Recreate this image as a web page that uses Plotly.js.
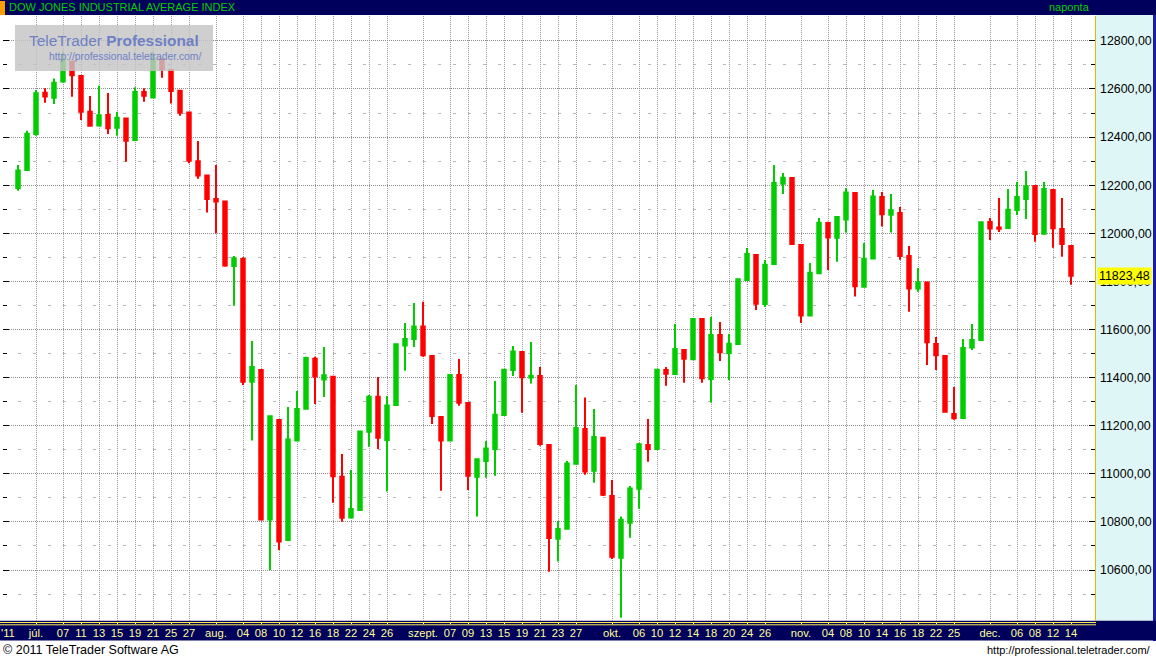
<!DOCTYPE html>
<html>
<head>
<meta charset="utf-8">
<script src="https://cdn.plot.ly/plotly-3.0.1.min.js"></script>
<style>
html,body{margin:0;padding:0;background:#fff;overflow:hidden}
#chart{width:1156px;height:659px}
</style>
</head>
<body>
<div id="chart"></div>
<script>
// ---- DATA: Dow Jones Industrial Average, daily OHLC, 29 Jun - 14 Dec 2011 ----
const dates = [
 '2011-06-29','2011-06-30',
 '2011-07-01','2011-07-05','2011-07-06','2011-07-07','2011-07-08','2011-07-11','2011-07-12','2011-07-13','2011-07-14','2011-07-15',
 '2011-07-18','2011-07-19','2011-07-20','2011-07-21','2011-07-22','2011-07-25','2011-07-26','2011-07-27','2011-07-28','2011-07-29',
 '2011-08-01','2011-08-02','2011-08-03','2011-08-04','2011-08-05','2011-08-08','2011-08-09','2011-08-10','2011-08-11','2011-08-12',
 '2011-08-15','2011-08-16','2011-08-17','2011-08-18','2011-08-19','2011-08-22','2011-08-23','2011-08-24','2011-08-25','2011-08-26',
 '2011-08-29','2011-08-30','2011-08-31',
 '2011-09-01','2011-09-02','2011-09-06','2011-09-07','2011-09-08','2011-09-09','2011-09-12','2011-09-13','2011-09-14','2011-09-15',
 '2011-09-16','2011-09-19','2011-09-20','2011-09-21','2011-09-22','2011-09-23','2011-09-26','2011-09-27','2011-09-28','2011-09-29','2011-09-30',
 '2011-10-03','2011-10-04','2011-10-05','2011-10-06','2011-10-07','2011-10-10','2011-10-11','2011-10-12','2011-10-13','2011-10-14',
 '2011-10-17','2011-10-18','2011-10-19','2011-10-20','2011-10-21','2011-10-24','2011-10-25','2011-10-26','2011-10-27','2011-10-28','2011-10-31',
 '2011-11-01','2011-11-02','2011-11-03','2011-11-04','2011-11-07','2011-11-08','2011-11-09','2011-11-10','2011-11-11',
 '2011-11-14','2011-11-15','2011-11-16','2011-11-17','2011-11-18','2011-11-21','2011-11-22','2011-11-23','2011-11-25',
 '2011-11-28','2011-11-29','2011-11-30',
 '2011-12-01','2011-12-02','2011-12-05','2011-12-06','2011-12-07','2011-12-08','2011-12-09','2011-12-12','2011-12-13','2011-12-14'
];
const openVals = [
 12188,12263,12413,12584,12564,12631,12714,12654,12505,12448,
 12492,12439,12477,12388,12587,12565,12724,12679,12593,12502,
 12300,12240,12143,12132,11864,11893,11383,11432,10810,11224,
 10725,11138,11270,11478,11392,11404,10988,10818,10850,11175,
 11320,11141,11286,11533,11561,11612,11490,11236,11138,11411,
 11294,10988,11053,11103,11244,11432,11506,11400,11407,11120,
 10730,10772,11042,11186,11013,11150,10908,10651,10797,10938,
 11120,11103,11432,11415,11515,11476,11644,11394,11577,11502,
 11540,11806,11910,11706,11872,12206,12230,11951,11658,11834,
 12043,11982,12057,12168,11778,11895,12151,12077,12084,11906,
 11770,11795,11540,11490,11249,11232,11525,11556,12047,12024,
 12022,12097,12143,12197,11998,12180,12018,11947
];
const highVals = [
 12284,12426,12596,12603,12644,12755,12714,12657,12571,12613,
 12583,12505,12481,12607,12603,12755,12728,12682,12596,12505,
 12384,12243,12284,12133,11906,11900,11552,11435,11240,11224,
 11278,11344,11487,11487,11527,11407,11082,11016,11180,11328,
 11403,11324,11541,11627,11710,11715,11494,11240,11413,11477,
 11298,11063,11136,11386,11436,11531,11510,11548,11444,11124,
 10804,11053,11369,11317,11269,11154,10974,10822,10949,11128,
 11228,11434,11444,11623,11515,11648,11644,11652,11631,11581,
 11810,11939,11914,11889,12284,12251,12234,11956,11877,12064,
 12048,12072,12188,12168,11960,12180,12172,12163,12109,11947,
 11856,11799,11569,11494,11361,11561,11623,12048,12064,12147,
 12184,12213,12259,12197,12213,12184,12147,11951
];
const lowVals = [
 12177,12259,12406,12543,12538,12626,12568,12471,12444,12446,
 12413,12406,12298,12385,12547,12563,12647,12540,12489,12291,
 12227,12086,12000,11861,11699,11369,11138,10808,10600,10683,
 10722,11138,11270,11290,11319,10880,10801,10818,10847,11113,
 11103,10926,11282,11428,11527,11487,11207,10930,11137,11283,
 10933,10822,10984,10992,11242,11407,11254,11375,11117,10593,
 10635,10771,11041,10996,10963,10908,10646,10402,10734,10855,
 11050,11101,11366,11411,11379,11473,11379,11296,11469,11390,
 11538,11802,11681,11694,11872,12163,11951,11627,11657,11831,
 11847,11882,12003,11737,11774,11894,12028,12003,11890,11674,
 11757,11452,11432,11257,11225,11229,11515,11556,11972,12005,
 12018,12076,12059,11965,11994,11940,11903,11786
];
const closeVals = [
 12261,12414,12582,12569,12626,12719,12657,12505,12447,12491,
 12437,12480,12385,12587,12572,12724,12681,12592,12501,12302,
 12240,12143,12132,11866,11896,11383,11444,10810,11239,10719,
 11143,11269,11482,11405,11410,10990,10817,10854,11176,11320,
 11150,11284,11539,11560,11613,11493,11240,11139,11411,11295,
 10992,11061,11105,11246,11433,11509,11401,11408,11124,10733,
 10771,11043,11190,11010,11153,10913,10655,10809,10939,11123,
 11103,11433,11416,11519,11478,11644,11397,11577,11505,11541,
 11809,11914,11707,11869,12209,12231,11955,11658,11836,12044,
 11983,12068,12170,11780,11894,12153,12079,12096,11906,11770,
 11796,11547,11493,11258,11231,11523,11556,12046,12020,12019,
 12098,12151,12196,11997,12184,12021,11955,11823.48
];
const xTickVals = [
 '2011-07-01','2011-07-07','2011-07-11','2011-07-13','2011-07-15','2011-07-19','2011-07-21','2011-07-25','2011-07-27',
 '2011-08-01','2011-08-04','2011-08-08','2011-08-10','2011-08-12','2011-08-16','2011-08-18','2011-08-22','2011-08-24','2011-08-26',
 '2011-09-01','2011-09-07','2011-09-09','2011-09-13','2011-09-15','2011-09-19','2011-09-21','2011-09-23','2011-09-27',
 '2011-10-03','2011-10-06','2011-10-10','2011-10-12','2011-10-14','2011-10-18','2011-10-20','2011-10-24','2011-10-26',
 '2011-11-01','2011-11-04','2011-11-08','2011-11-10','2011-11-14','2011-11-16','2011-11-18','2011-11-22','2011-11-25',
 '2011-12-01','2011-12-06','2011-12-08','2011-12-12','2011-12-14'
];
const xTickText = [
 'júl.','07','11','13','15','19','21','25','27',
 'aug.','04','08','10','12','16','18','22','24','26',
 'szept.','07','09','13','15','19','21','23','27',
 'okt.','06','10','12','14','18','20','24','26',
 'nov.','04','08','10','14','16','18','22','25',
 'dec.','06','08','12','14'
];
const yearLabel = "'11";
const yTickVals = [10600,10800,11000,11200,11400,11600,11800,12000,12200,12400,12600,12800];
const yTickText = ['10600,00','10800,00','11000,00','11200,00','11400,00','11600,00','11800,00','12000,00','12200,00','12400,00','12600,00','12800,00'];
const lastPrice = 11823.48;
const lastPriceText = '11823,48';
const titleText = 'DOW JONES INDUSTRIAL AVERAGE INDEX';
const periodText = 'naponta';
const copyrightText = '\u00a9 2011 TeleTrader Software AG';
const urlText = 'http://professional.teletrader.com/';
const watermarkTitle = 'TeleTrader <b>Professional</b>';

// ---- LAYOUT GEOMETRY ----
const W = 1156, H = 659;
const ML = 3, MR = 61, MT = 16, MB = 38;
const PW = W - ML - MR, PH = H - MT - MB;
const px = v => (v - ML) / PW;          // page x pixel -> paper
const py = v => (H - MB - v) / PH;      // page y pixel -> paper
const FONT = 'Liberation Sans, Arial, sans-serif';
const NAVY = '#00005c';

function rect(x0, y0, x1, y1, fill, layer) {
  return {type:'rect', xref:'paper', yref:'paper', x0:px(x0), x1:px(x1), y0:py(y1), y1:py(y0),
          fillcolor:fill, line:{width:0}, layer:layer || 'below'};
}
function hline(x0, x1, y, color) {
  return {type:'line', xref:'paper', yref:'paper', x0:px(x0), x1:px(x1), y0:py(y), y1:py(y),
          line:{color:color, width:1}, layer:'below'};
}
function note(text, x, y, xanchor, size, color, extra) {
  return Object.assign({xref:'paper', yref:'paper', x:px(x), y:py(y), xanchor:xanchor, yanchor:'middle',
          text:text, showarrow:false, font:{family:FONT, size:size, color:color}}, extra || {});
}

const trace = {
  type:'candlestick',
  x: dates, open: openVals, high: highVals, low: lowVals, close: closeVals,
  increasing:{line:{color:'#00cc00', width:2}, fillcolor:'#00cc00'},
  decreasing:{line:{color:'#ff0000', width:2}, fillcolor:'#ff0000'},
  whiskerwidth:0,
  hoverinfo:'skip'
};

const layout = {
  width: W, height: H,
  margin:{l:ML, r:MR, t:MT, b:MB, pad:0},
  paper_bgcolor:'#ffffff', plot_bgcolor:'#ffffff',
  showlegend:false,
  boxgap:0.45,
  separators:',.',
  xaxis:{
    type:'category',
    range:[-1.667, 119.667],
    rangeslider:{visible:false},
    tickmode:'array', tickvals:xTickVals, ticktext:xTickText,
    showgrid:true, gridcolor:'#9c9c9c', griddash:'1px,1px', gridwidth:1,
    ticks:'outside', ticklen:2, tickcolor:'#ffff66',
    tickfont:{family:FONT, size:11.2, color:'#ffff99'},
    tickangle:0,
    showline:false, zeroline:false, fixedrange:true
  },
  yaxis:{
    side:'right',
    range:[10388, 12903.5],
    tickmode:'array', tickvals:yTickVals, ticktext:yTickText,
    showgrid:true, gridcolor:'#8c8c8c', griddash:'1px,1px', gridwidth:1,
    ticks:'inside', ticklen:6, tickcolor:'#000000', tickwidth:1,
    mirror:'ticks',
    ticklabelstandoff:4,
    tickfont:{family:FONT, size:12.4, color:'#000000'},
    minor:{tickmode:'linear', tick0:10500, dtick:200, showgrid:true, gridcolor:'#b8b8b8',
           griddash:'3px,12px', ticks:'inside', ticklen:4, tickcolor:'#000000'},
    showline:false, zeroline:false, fixedrange:true
  },
  shapes:[
    rect(0, 0, 1156, 15, NAVY),
    rect(0, 1, 5, 15, '#ff9c00'),
    rect(1096, 15, 1153, 621, '#def6f6'),
    rect(1153, 15, 1156, 641, '#1c1ca4'),
    rect(0, 620.7, 1156, 640.5, NAVY),
    hline(0, 1096, 622.5, '#ffee55'),
    hline(0, 1096, 624.8, '#ffee55'),
    {type:'line', xref:'paper', yref:'paper', x0:px(1095.5), x1:px(1095.5), y0:py(621), y1:py(16),
     line:{color:'#e8b400', width:1}, layer:'above'},
    rect(15, 25, 213, 71, 'rgba(196,196,196,0.82)', 'above')
  ],
  annotations:[
    note(titleText, 7, 7.5, 'left', 11, '#00d000'),
    note(periodText, 1092, 7.5, 'right', 11, '#00d000'),
    note(yearLabel, 8, 632.5, 'center', 11.2, '#ffff99'),
    note(watermarkTitle, 27, 41, 'left', 15.4, '#6f7fc6'),
    note(urlText, 47, 57, 'left', 10.3, '#6f7fc6'),
    note(copyrightText, 1, 650, 'left', 12.5, '#000000'),
    note(urlText, 1153, 650, 'right', 11, '#000000'),
    {xref:'paper', yref:'y', x:px(1097), y:lastPrice, xanchor:'left', yanchor:'middle',
     text:lastPriceText, showarrow:false, bgcolor:'#ffff00', borderpad:1,
     font:{family:FONT, size:12.4, color:'#000000'}}
  ]
};

Plotly.newPlot('chart', [trace], layout, {staticPlot:true, displayModeBar:false});
</script>
</body>
</html>
